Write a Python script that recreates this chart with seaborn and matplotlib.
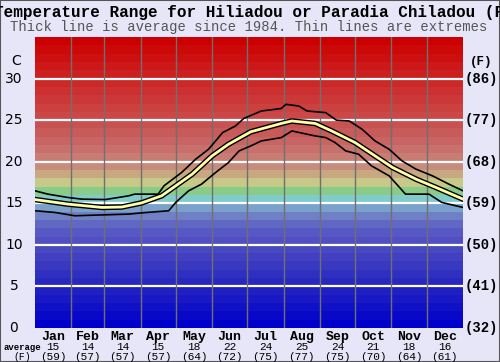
import numpy as np
import pandas as pd
import matplotlib
matplotlib.use("Agg")
import matplotlib.pyplot as plt
import seaborn as sns

# ---- data (day of year, deg C) ----
avg_day = [0, 28, 57, 74, 91, 108, 120, 134, 151, 165, 184, 210, 219, 239, 253, 273, 290, 305, 325, 342, 365]
avg_temp = [15.45, 14.9, 14.5, 14.55, 15.05, 15.9, 17.1, 18.5, 20.7, 22.1, 23.6, 24.6, 24.9, 24.6, 23.7, 22.3, 20.7, 19.3, 17.9, 16.9, 15.5]

max_day = [0, 11, 28, 40, 60, 80, 85, 105, 110, 125, 137, 148, 160, 171, 178, 193, 210, 214, 225, 232, 248, 257, 268, 279, 290, 302, 313, 325, 339, 353, 365]
max_temp = [16.5, 16.1, 15.7, 15.5, 15.45, 15.9, 16.1, 16.1, 17.1, 18.7, 20.3, 21.5, 23.5, 24.3, 25.2, 26.1, 26.4, 26.9, 26.7, 26.1, 25.9, 25.0, 24.9, 23.9, 22.5, 21.5, 20.1, 19.1, 18.3, 17.3, 16.5]

min_day = [0, 17, 34, 57, 80, 91, 114, 120, 131, 142, 154, 165, 174, 184, 193, 210, 219, 239, 248, 256, 265, 276, 287, 302, 316, 336, 347, 365]
min_temp = [14.1, 13.9, 13.5, 13.6, 13.7, 13.85, 14.1, 15.1, 16.5, 17.3, 18.7, 19.9, 21.3, 21.9, 22.5, 22.9, 23.7, 23.1, 22.9, 22.3, 21.3, 20.9, 19.5, 18.3, 16.1, 16.1, 15.1, 14.5]

months = ["Jan", "Feb", "Mar", "Apr", "May", "Jun", "Jul", "Aug", "Sep", "Oct", "Nov", "Dec"]
month_days = [31, 28, 31, 30, 31, 30, 31, 31, 30, 31, 30, 31]
month_avg_c = [15, 14, 14, 15, 18, 22, 24, 25, 24, 21, 18, 16]
month_avg_f = [59, 57, 57, 57, 64, 72, 75, 77, 75, 70, 64, 61]

c_ticks = [0, 5, 10, 15, 20, 25, 30]
f_ticks = ["(32)", "(41)", "(50)", "(59)", "(68)", "(77)", "(86)"]

# colour of each 1-degree background band, 0..35 C
band_colors = [
    "#0000CC", "#0808C8", "#1010C6", "#1818C4", "#2020C2",
    "#2828C0", "#3030C0", "#3838C0", "#4040C0", "#4848C0",
    "#5050C4", "#5858C4", "#6068C4", "#7080C4", "#7AA0CC",
    "#80CCCC", "#88CC88", "#C8C888", "#C8A880", "#C88C7C",
    "#C87C74", "#C8706C", "#C86464", "#C85A5A", "#C85252",
    "#CC4848", "#CC4040", "#CC3838", "#CC3030", "#CC2828",
    "#CC2020", "#CC1818", "#CC1010", "#CC0808", "#CC0000",
]

W, H = 500, 362
fig = plt.figure(figsize=(W / 100, H / 100), dpi=100)
fig.patch.set_facecolor("#E6E6F8")
ax = fig.add_axes([35 / W, 1 - 328 / H, 428 / W, 291 / H])

for i, c in enumerate(band_colors):
    ax.axhspan(i, i + 1, color=c, lw=0, zorder=0)

for t in c_ticks[1:]:
    ax.axhline(t, color="white", lw=1.6, zorder=1)

edges = np.cumsum(month_days)
for e in edges[:-1]:
    ax.axvline(e, color="#707070", lw=1, zorder=1)

df_avg = pd.DataFrame({"day": avg_day, "temp": avg_temp})
df_max = pd.DataFrame({"day": max_day, "temp": max_temp})
df_min = pd.DataFrame({"day": min_day, "temp": min_temp})

sns.lineplot(data=df_max, x="day", y="temp", color="black", lw=1.2, ax=ax, zorder=3)
sns.lineplot(data=df_min, x="day", y="temp", color="black", lw=1.2, ax=ax, zorder=3)
sns.lineplot(data=df_avg, x="day", y="temp", color="black", lw=4.0, ax=ax, zorder=4)
sns.lineplot(data=df_avg, x="day", y="temp", color="#FFFFAA", lw=2.0, ax=ax, zorder=5)

ax.set_xlim(0, 365)
ax.set_ylim(0, 35)
ax.set_xticks([])
ax.set_yticks([])
ax.set_xlabel("")
ax.set_ylabel("")
for s in ax.spines.values():
    s.set_visible(False)

def fx(px):
    return px / W

def fy(py):
    return 1 - py / H

mono = "Liberation Mono"

fig.text(fx(-6), fy(12), "Temperature Range for Hiliadou or Paradia Chiladou (F",
         ha="left", va="center", family=mono, weight="bold", fontsize=11.5)
fig.text(fx(249), fy(27), "Thick line is average since 1984. Thin lines are extremes",
         ha="center", va="center", family=mono, fontsize=10, color="#555555")

# left C axis
y_per_c = 291 / 35
for t in c_ticks:
    fig.text(fx(14), fy(328 - t * y_per_c), str(t), ha="center", va="center",
             family="DejaVu Sans", fontsize=10)
fig.text(fx(16), fy(61), "C", ha="center", va="center", family="DejaVu Sans", fontsize=10)

# right F axis
for t, lab in zip(c_ticks, f_ticks):
    fig.text(fx(481), fy(328 - t * y_per_c), lab, ha="center", va="center",
             family=mono, weight="bold", fontsize=10)
fig.text(fx(481), fy(62), "(F)", ha="center", va="center", family=mono, weight="bold", fontsize=9)

# month labels
starts = np.concatenate([[0], edges[:-1]])
for m, s, d, c, f in zip(months, starts, month_days, month_avg_c, month_avg_f):
    px = 35 + (s + d / 2) / 365 * 428
    fig.text(fx(px), fy(337), m, ha="center", va="center", family=mono, weight="bold", fontsize=9.5)
    fig.text(fx(px), fy(347), str(c), ha="center", va="center", family=mono, fontsize=8)
    fig.text(fx(px), fy(357), f"({f})", ha="center", va="center", family=mono, fontsize=8)
fig.text(fx(22), fy(347), "average", ha="center", va="center", family=mono, weight="bold", fontsize=6.5)
fig.text(fx(22), fy(357), "(F)", ha="center", va="center", family=mono, fontsize=7)

fig.add_artist(plt.Rectangle((0, 0), 1, 1, transform=fig.transFigure, fill=False,
                             edgecolor="#555555", lw=1.5))

fig.savefig("out.png", dpi=100, facecolor=fig.get_facecolor())
